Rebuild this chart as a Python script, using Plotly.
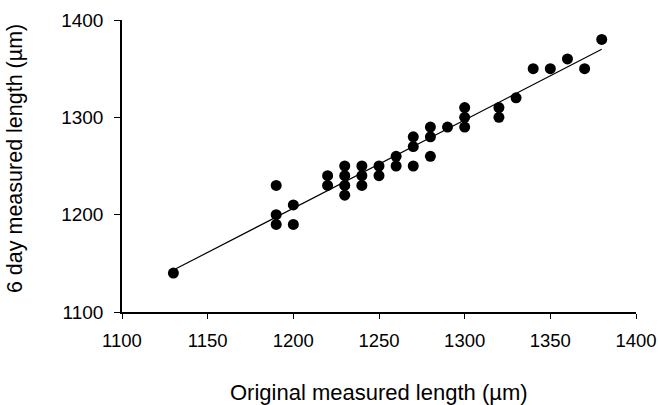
import numpy as np
import plotly.graph_objects as go

original_length = [1130, 1190, 1190, 1190, 1200, 1200, 1220, 1220,
                   1230, 1230, 1230, 1230, 1240, 1240, 1240, 1250, 1250,
                   1260, 1260, 1270, 1270, 1270, 1280, 1280, 1280, 1290,
                   1300, 1300, 1300, 1320, 1320, 1330, 1340, 1350, 1360,
                   1370, 1380]
day6_length = [1140, 1230, 1200, 1190, 1210, 1190, 1240, 1230,
               1250, 1240, 1230, 1220, 1250, 1240, 1230, 1250, 1240,
               1260, 1250, 1280, 1270, 1250, 1290, 1280, 1260, 1290,
               1310, 1300, 1290, 1310, 1300, 1320, 1350, 1350, 1360,
               1350, 1380]
x_ticks = [1100, 1150, 1200, 1250, 1300, 1350, 1400]
y_ticks = [1100, 1200, 1300, 1400]
x_title = "Original measured length (µm)"
y_title = "6 day measured length (µm)"

x = np.array(original_length, dtype=float)
y = np.array(day6_length, dtype=float)
slope, intercept = np.polyfit(x, y, 1)
x_fit = np.array([x.min(), x.max()])
y_fit = slope * x_fit + intercept

fig = go.Figure()
fig.add_trace(go.Scatter(x=x_fit, y=y_fit, mode="lines",
                         line=dict(color="black", width=1.2),
                         showlegend=False, hoverinfo="skip"))
fig.add_trace(go.Scatter(x=original_length, y=day6_length, mode="markers",
                         marker=dict(color="black", size=11),
                         showlegend=False))

font_family = "Liberation Sans, Arial, sans-serif"
fig.update_layout(
    width=658, height=405,
    margin=dict(l=122, r=22, t=20, b=93),
    paper_bgcolor="white", plot_bgcolor="white",
    font=dict(family=font_family, color="black", size=19),
    xaxis=dict(range=[1100, 1400], tickvals=x_ticks, automargin=False,
               showgrid=False, zeroline=False, showline=True, linecolor="black", linewidth=1.5,
               ticks="outside", ticklen=5, tickwidth=1.2, tickcolor="black",
               ticklabelstandoff=6,
               tickfont=dict(size=18.5)),
    yaxis=dict(range=[1100, 1400], tickvals=y_ticks, automargin=False,
               showgrid=False, zeroline=False, showline=True, linecolor="black", linewidth=1.5,
               ticks="outside", ticklen=6, tickwidth=1.2, tickcolor="black",
               ticklabelstandoff=7,
               tickfont=dict(size=19)),
    annotations=[
        dict(text=x_title, xref="paper", yref="paper", x=0.5, y=-0.277,
             xanchor="center", yanchor="middle", showarrow=False,
             font=dict(size=22)),
        dict(text=y_title, xref="paper", yref="paper", x=-0.208, y=0.524,
             xanchor="center", yanchor="middle", showarrow=False, textangle=-90,
             font=dict(size=21.5)),
    ],
)
fig.write_html("out.html", config={"displayModeBar": False},
               post_script="document.body.style.margin='0px';")
